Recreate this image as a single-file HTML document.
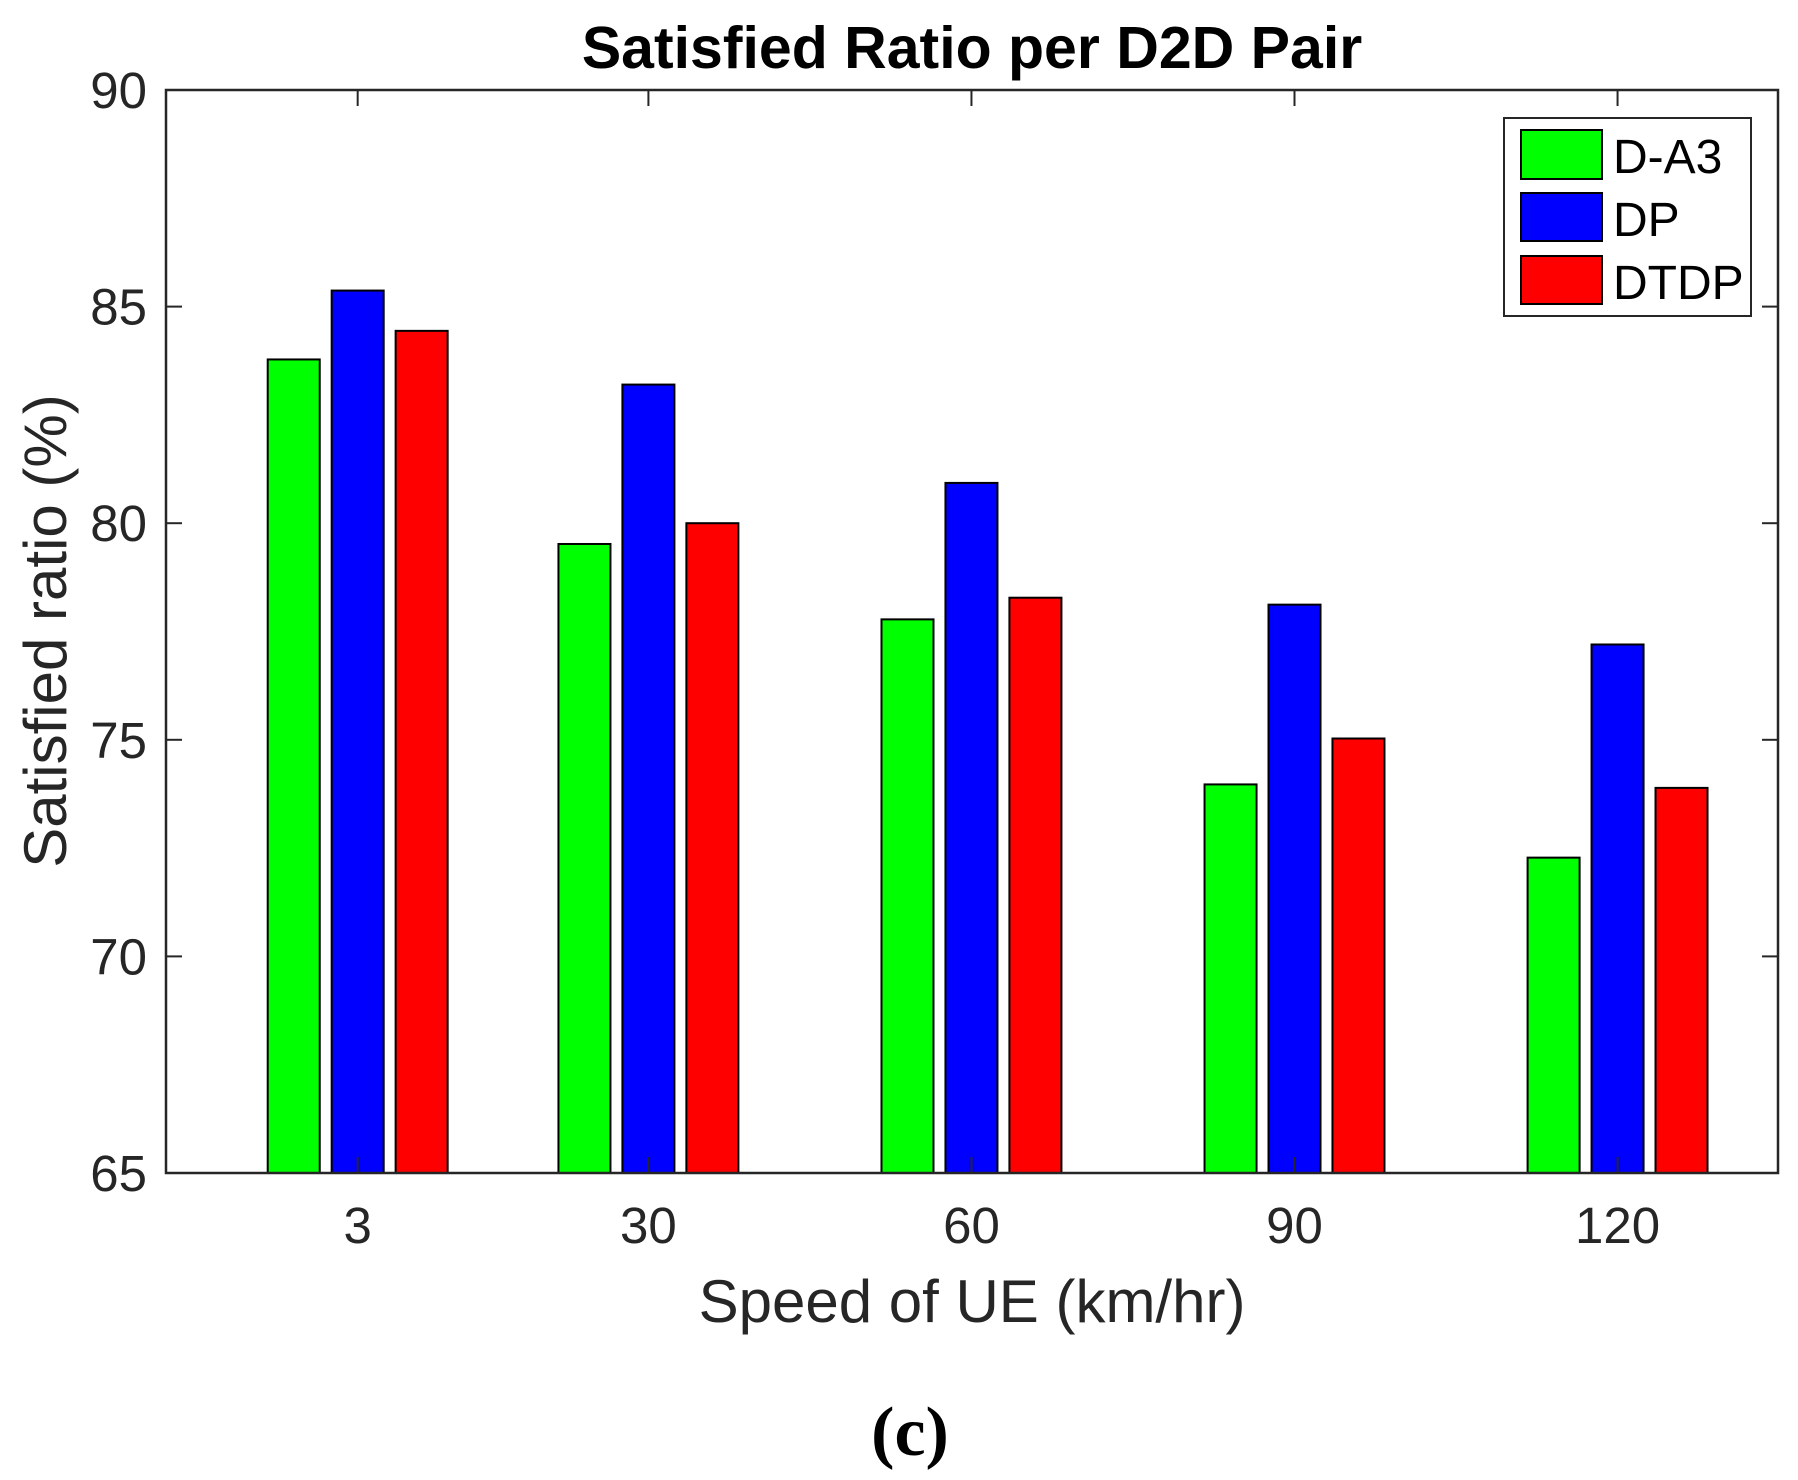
<!DOCTYPE html>
<html><head><meta charset="utf-8"><style>
html,body{margin:0;padding:0;background:#fff;}
svg{display:block;}
</style></head><body>
<svg id="chart" width="1798" height="1480" viewBox="0 0 1798 1480" xmlns="http://www.w3.org/2000/svg">
<rect x="0" y="0" width="1798" height="1480" fill="#fff"/>
<text x="972" y="68" text-anchor="middle" font-family="Liberation Sans, sans-serif" font-weight="bold" font-size="59" fill="#000">Satisfied Ratio per D2D Pair</text>
<g id="bars"></g>
<g id="axes"></g>
<text x="972" y="1322" text-anchor="middle" font-family="Liberation Sans, sans-serif" font-size="60" fill="#262626">Speed of UE (km/hr)</text>
<text transform="translate(66,631) rotate(-90)" text-anchor="middle" font-family="Liberation Sans, sans-serif" font-size="60" fill="#262626">Satisfied ratio (%)</text>
<text x="910" y="1455" text-anchor="middle" font-family="Liberation Serif, serif" font-weight="bold" font-size="70" fill="#000">(c)</text>
<g>
<rect x="1504" y="118" width="247" height="198" fill="#fff" stroke="#262626" stroke-width="2"/>
<rect x="1521" y="130" width="81" height="49" fill="#00ff00" stroke="#000" stroke-width="2"/>
<text x="1613" y="173" font-family="Liberation Sans, sans-serif" font-size="48" fill="#000">D-A3</text>
<rect x="1521" y="193" width="81" height="48" fill="#0000ff" stroke="#000" stroke-width="2"/>
<text x="1613" y="236" font-family="Liberation Sans, sans-serif" font-size="48" fill="#000">DP</text>
<rect x="1521" y="256" width="81" height="48" fill="#ff0000" stroke="#000" stroke-width="2"/>
<text x="1613" y="299" font-family="Liberation Sans, sans-serif" font-size="48" fill="#000">DTDP</text>
</g>
</svg>
<script>
const categories = [3, 30, 60, 90, 120];
const seriesDA3 = [83.78, 79.52, 77.78, 73.97, 72.28];
const seriesDP = [85.37, 83.2, 80.93, 78.12, 77.2];
const seriesDTDP = [84.44, 80.0, 78.28, 75.03, 73.89];
const yTicks = [65, 70, 75, 80, 85, 90];

const NS = 'http://www.w3.org/2000/svg';
const L = 166, R = 1778, T = 90, B = 1173;
const xMin = -14.8, xMax = 134.9, yMin = 65, yMax = 90;
function xs(v){ return L + (v - xMin) / (xMax - xMin) * (R - L); }
function ys(v){ return B - (v - yMin) / (yMax - yMin) * (B - T); }
const barW = 4.83, off = 5.94;
function mk(tag, attrs){ const e = document.createElementNS(NS, tag); for (const k in attrs) e.setAttribute(k, attrs[k]); return e; }
const bars = document.getElementById('bars');
const series = [[seriesDA3, '#00ff00', 'd-a3'], [seriesDP, '#0000ff', 'dp'], [seriesDTDP, '#ff0000', 'dtdp']];
series.forEach((s, si) => {
  s[0].forEach((v, i) => {
    const c = categories[i] + (si - 1) * off;
    const x0 = xs(c - barW / 2), x1 = xs(c + barW / 2);
    const r = mk('rect', {x: x0, y: ys(v), width: x1 - x0, height: ys(yMin) - ys(v), fill: s[1], stroke: '#000', 'stroke-width': 2});
    
    
    bars.appendChild(r);
  });
});
const axes = document.getElementById('axes');
const frame = mk('rect', {x: L, y: T, width: R - L, height: B - T, fill: 'none', stroke: '#262626', 'stroke-width': 2.5});


axes.appendChild(frame);
yTicks.forEach(t => {
  const y = ys(t);
  axes.appendChild(mk('line', {x1: L, x2: L + 16, y1: y, y2: y, stroke: '#262626', 'stroke-width': 2}));
  axes.appendChild(mk('line', {x1: R, x2: R - 16, y1: y, y2: y, stroke: '#262626', 'stroke-width': 2}));
  const tx = mk('text', {x: 147, y: y + 18, 'text-anchor': 'end', 'font-family': 'Liberation Sans, sans-serif', 'font-size': 51, fill: '#262626'});
  tx.textContent = t;
  
  
  axes.appendChild(tx);
});
categories.forEach(c => {
  const x = xs(c);
  axes.appendChild(mk('line', {x1: x, x2: x, y1: B, y2: B - 16, stroke: '#262626', 'stroke-width': 2}));
  axes.appendChild(mk('line', {x1: x, x2: x, y1: T, y2: T + 16, stroke: '#262626', 'stroke-width': 2}));
  const tx = mk('text', {x: x, y: 1243, 'text-anchor': 'middle', 'font-family': 'Liberation Sans, sans-serif', 'font-size': 51, fill: '#262626'});
  tx.textContent = c;
  
  
  axes.appendChild(tx);
});
</script>
</body></html>
